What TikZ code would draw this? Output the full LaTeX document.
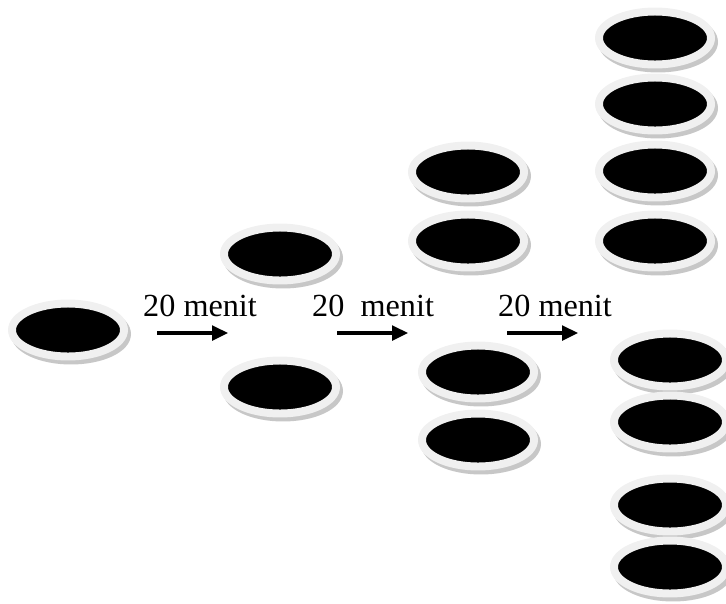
\documentclass[tikz,border=0pt]{standalone}
\usepackage{fontspec}
\setmainfont{Liberation Serif}
\usetikzlibrary{shapes.geometric,arrows.meta}

\begin{document}
\begin{tikzpicture}[x=.03cm,y=-.03cm,
  cell/.style={ellipse,fill=black,draw=black!6,line width=6.8pt,
    minimum width=3.36cm,minimum height=1.59cm,inner sep=0pt,
    preaction={fill=black!22,draw=black!22,line width=6.8pt,
      transform canvas={shift={(3,4)}}}},
  lbl/.style={anchor=base west,inner sep=0pt,font=\fontsize{27.5}{31}\selectfont},
  flow/.style={line width=2.6pt,-{Triangle[length=13.5pt,width=12.5pt]}}]
  \useasboundingbox (0,0) rectangle (726,603);

  % generation 0
  \node[cell] (g0) at (68,330) {};
  % generation 1
  \node[cell] (g1a) at (280,254) {};
  \node[cell] (g1b) at (280,387) {};
  % generation 2
  \node[cell] (g2a) at (468,172) {};
  \node[cell] (g2b) at (468,241) {};
  \node[cell] (g2c) at (478,372) {};
  \node[cell] (g2d) at (478,440) {};
  % generation 3
  \node[cell] (g3a) at (655,38) {};
  \node[cell] (g3b) at (655,104) {};
  \node[cell] (g3c) at (655,171) {};
  \node[cell] (g3d) at (655,241) {};
  \node[cell] (g3e) at (670,360) {};
  \node[cell] (g3f) at (670,422) {};
  \node[cell] (g3g) at (670,505) {};
  \node[cell] (g3h) at (670,567) {};

  % time steps
  \node[lbl] (t1) at (143,316) {20 menit};
  \node[lbl] (t2) at (312,316) {20\ \ menit};
  \node[lbl] (t3) at (498,316) {20 menit};
  \coordinate (s1) at (157,333);
  \coordinate (e1) at (228,333);
  \coordinate (s2) at (337,333);
  \coordinate (e2) at (408,333);
  \coordinate (s3) at (507,333);
  \coordinate (e3) at (578,333);
  \draw[flow] (s1) -- (e1);
  \draw[flow] (s2) -- (e2);
  \draw[flow] (s3) -- (e3);
\end{tikzpicture}
\end{document}
